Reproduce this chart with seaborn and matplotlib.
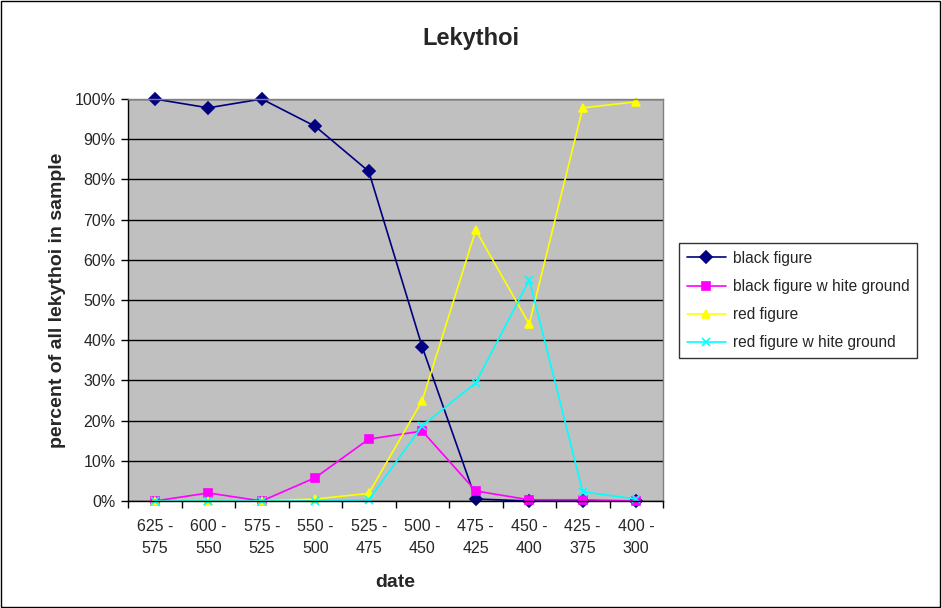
import numpy as np
import pandas as pd
import matplotlib.pyplot as plt
import seaborn as sns
from matplotlib.patches import Rectangle
from matplotlib.ticker import FixedLocator

# Data (percent of all lekythoi in sample)
dates = ["625 -\n575", "600 -\n550", "575 -\n525", "550 -\n500", "525 -\n475",
         "500 -\n450", "475 -\n425", "450 -\n400", "425 -\n375", "400 -\n300"]
black_figure = [100, 97.8, 100, 93.2, 82, 38.3, 0.5, 0, 0, 0]
black_figure_wg = [0, 2, 0, 5.8, 15.4, 17.4, 2.5, 0.3, 0.3, 0]
red_figure = [0, 0, 0, 0.5, 1.9, 25, 67.4, 44, 97.8, 99.3]
red_figure_wg = [0, 0, 0, 0, 0.3, 18.7, 29.4, 55, 2.3, 0.5]

series_names = ["black figure", "black figure w hite ground",
                "red figure", "red figure w hite ground"]
series_values = [black_figure, black_figure_wg, red_figure, red_figure_wg]
colors = ["#000080", "#FF00FF", "#FFFF00", "#00FFFF"]
marker_list = ["D", "s", "^", "x"]

sns.set_style("white")
plt.rcParams["font.family"] = ["Liberation Sans", "DejaVu Sans"]

fig = plt.figure(figsize=(9.42, 6.08), dpi=100)
ax = fig.add_axes([128 / 942, 1 - 501 / 608, (663 - 128) / 942, (501 - 99) / 608])
ax.set_facecolor("#C0C0C0")

pos = np.arange(len(dates))
for name, vals, col, mk in zip(series_names, series_values, colors, marker_list):
    d = pd.DataFrame({"pos": pos, "pct": vals})
    sns.lineplot(data=d, x="pos", y="pct", color=col, marker=mk, label=name,
                 linewidth=1.2, markersize=6, markeredgewidth=1.2,
                 markeredgecolor=col, markerfacecolor=col, ax=ax, clip_on=False)

ax.set_xlim(-0.5, len(dates) - 0.5)
ax.set_ylim(0, 100)
ax.set_yticks(np.arange(0, 101, 10))
ax.set_yticklabels([f"{t}%" for t in range(0, 101, 10)], fontsize=11.5)
ax.yaxis.grid(True, color="black", linewidth=1)
ax.set_axisbelow(True)

ax.set_xticks(pos)
ax.set_xticklabels(dates, fontsize=11.5, linespacing=1.6)
ax.xaxis.set_minor_locator(FixedLocator(np.arange(-0.5, len(dates), 1)))
ax.tick_params(axis="x", which="major", length=0, pad=13)
ax.tick_params(axis="x", which="minor", length=5, width=1, color="black", direction="out", bottom=True)
ax.tick_params(axis="y", length=5, width=1, color="black", direction="out", left=True, pad=4)

for side in ["left", "bottom"]:
    ax.spines[side].set_color("black")
    ax.spines[side].set_linewidth(1)
for side in ["top", "right"]:
    ax.spines[side].set_color("#808080")
    ax.spines[side].set_linewidth(1)

ax.set_xlabel("date", fontsize=14, fontweight="bold", labelpad=13)
ax.set_ylabel("percent of all lekythoi in sample", fontsize=14, fontweight="bold", labelpad=6)
fig.suptitle("Lekythoi", fontsize=17, fontweight="bold", x=0.5, y=1 - 38 / 608, va="center")

leg = ax.legend(loc="upper left", bbox_to_anchor=(679 / 942, 1 - 243 / 608),
                bbox_transform=fig.transFigure, frameon=True, fancybox=False,
                fontsize=11.2, handlelength=2.5, handletextpad=0.45, borderpad=0.5,
                labelspacing=0.85, borderaxespad=0)
leg.get_frame().set_edgecolor("black")
leg.get_frame().set_linewidth(1)

fig.patches.append(Rectangle((0.001, 0.001), 0.997, 0.997, transform=fig.transFigure,
                             fill=False, edgecolor="black", linewidth=1))

fig.savefig("out.png", dpi=100)
